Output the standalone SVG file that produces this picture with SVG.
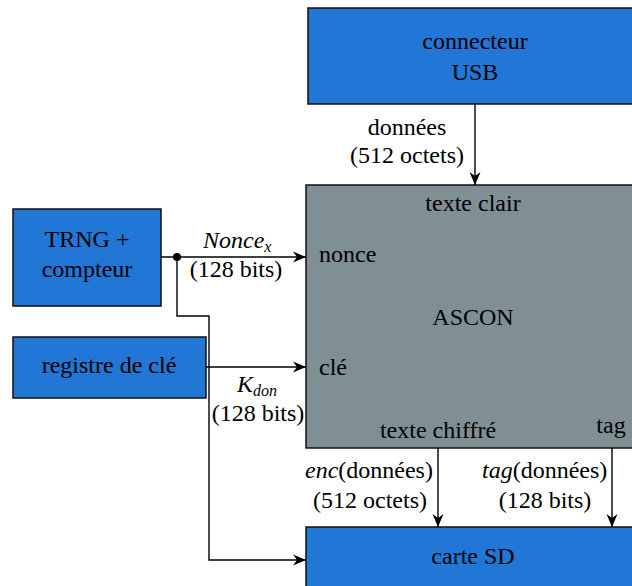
<svg xmlns="http://www.w3.org/2000/svg" width="632" height="586" viewBox="0 0 632 586" font-family="'Liberation Serif', 'Times New Roman', 'DejaVu Serif', serif">
<style>
text{font-family:'Liberation Serif','Times New Roman','DejaVu Serif',serif;font-size:24px;fill:#000}
.c{text-anchor:middle}
.i{font-style:italic}
.sub{font-size:16px;font-style:italic}
.blue{fill:#2176d6;stroke:#111;stroke-width:1.5}
.grey{fill:#7f8f94;stroke:#111;stroke-width:1.5}
.ln{fill:none;stroke:#000;stroke-width:1.4}
</style>
<defs>
<marker id="ah" markerWidth="14" markerHeight="12" refX="13" refY="6" orient="auto" markerUnits="userSpaceOnUse">
<path d="M0,0.5 L13,6 L0,11.5 L4,6 z" fill="#000"/>
</marker>
</defs>
<g id="usb"><rect class="blue" x="308" y="8" width="340" height="96"/><text class="c" x="475" y="49">connecteur</text><text class="c" x="475" y="80">USB</text></g>
<g id="ascon"><rect class="grey" x="306" y="185" width="340" height="263"/><text class="c" x="473" y="211">texte clair</text><text x="319" y="262">nonce</text><text class="c" x="473" y="325">ASCON</text><text x="319" y="375">clé</text><text class="c" x="438" y="438">texte chiffré</text><text class="c" x="611" y="433">tag</text></g>
<g id="trng"><rect class="blue" x="13" y="209" width="148" height="97"/><text class="c" x="87" y="247">TRNG +</text><text class="c" x="87" y="277">compteur</text></g>
<g id="registre"><rect class="blue" x="13" y="337" width="193" height="61"/><text class="c" x="109" y="373">registre de clé</text></g>
<g id="sd"><rect class="blue" x="306" y="527" width="340" height="70"/><text class="c" x="473" y="564">carte SD</text></g>
<g id="connectors">
<line class="ln" x1="475" y1="104" x2="475" y2="185" marker-end="url(#ah)"/>
<line class="ln" x1="161" y1="257" x2="306" y2="257" marker-end="url(#ah)"/>
<circle cx="177" cy="257" r="4" fill="#000"/>
<polyline class="ln" points="177,257 177,316 209,316 209,560 306,560" marker-end="url(#ah)"/>
<line class="ln" x1="206" y1="367" x2="306" y2="367" marker-end="url(#ah)"/>
<line class="ln" x1="438" y1="448" x2="438" y2="527" marker-end="url(#ah)"/>
<line class="ln" x1="612" y1="448" x2="612" y2="527" marker-end="url(#ah)"/>
<text class="c" x="407" y="135">données</text>
<text class="c" x="407" y="163">(512 octets)</text>
<text x="203" y="248"><tspan class="i">Nonce</tspan><tspan class="sub" dy="4">x</tspan></text>
<text class="c" x="236" y="277">(128 bits)</text>
<text x="237" y="392"><tspan class="i">K</tspan><tspan class="sub" dy="4">don</tspan></text>
<text class="c" x="258" y="421">(128 bits)</text>
<text x="305" y="478"><tspan class="i">enc</tspan>(données)</text>
<text class="c" x="370" y="508">(512 octets)</text>
<text x="482" y="478"><tspan class="i">tag</tspan>(données)</text>
<text class="c" x="545" y="508">(128 bits)</text>
</g>
</svg>
